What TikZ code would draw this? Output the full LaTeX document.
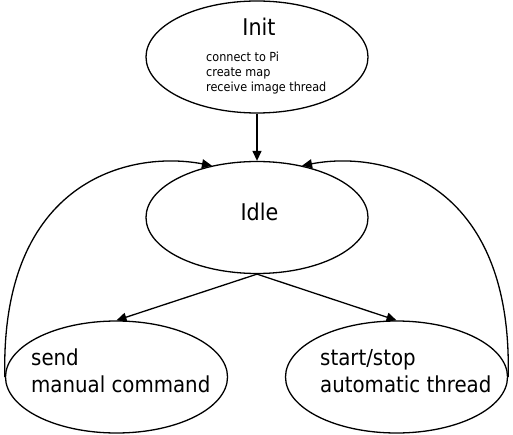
\documentclass[tikz,border=0pt]{standalone}
\usepackage{fontspec}
\setmainfont{DejaVu Sans Condensed}
\usetikzlibrary{shapes.geometric,arrows.meta}
\begin{document}
\begin{tikzpicture}[x=1pt,y=-1pt,
  state/.style={draw,ellipse,line width=1.3pt,minimum width=222pt,minimum height=112pt,inner sep=0pt},
  conn/.style={line width=1.3pt,-{Triangle[length=10pt,width=9pt]}},
  big/.style={font=\fontsize{22}{26}\selectfont,inner sep=0pt},
  title/.style={font=\fontsize{23}{27}\selectfont,inner sep=0pt,anchor=base},
  small/.style={font=\fontsize{12.5}{15}\selectfont,inner sep=0pt,anchor=base west},
]
\useasboundingbox (0,0) rectangle (513,435);
\fill[white] (0,0) rectangle (513,435);
\node[state] (init) at (257,57) {};
\node[state] (idle) at (257,217.5) {};
\node[state] (send) at (116.5,377) {};
\node[state] (auto) at (396.5,377) {};

\node[title] (tinit) at (259,36) {Init};
\node[small] (l1) at (206,62) {connect to Pi};
\node[small] (l2) at (206,77) {create map};
\node[small] (l3) at (206,92) {receive image thread};
\node[title] (tidle) at (259.5,220.7) {Idle};
\node[big,anchor=base west] (s1) at (31,365) {send};
\node[big,anchor=base west] (s2) at (31,392.7) {manual command};
\node[big,anchor=base west] (a1) at (320,365) {start/stop};
\node[big,anchor=base west] (a2) at (320,392.7) {automatic thread};

\draw[conn] (init.south) -- (idle.north);
\draw[conn] (idle.south) -- (send.north);
\draw[conn] (idle.south) -- (auto.north);
\draw[conn] (send.west) .. controls (0,180) and (130,150) .. (idle.131);
\draw[conn] (auto.east) .. controls (513,180) and (383,150) .. (idle.49);
\end{tikzpicture}
\end{document}
